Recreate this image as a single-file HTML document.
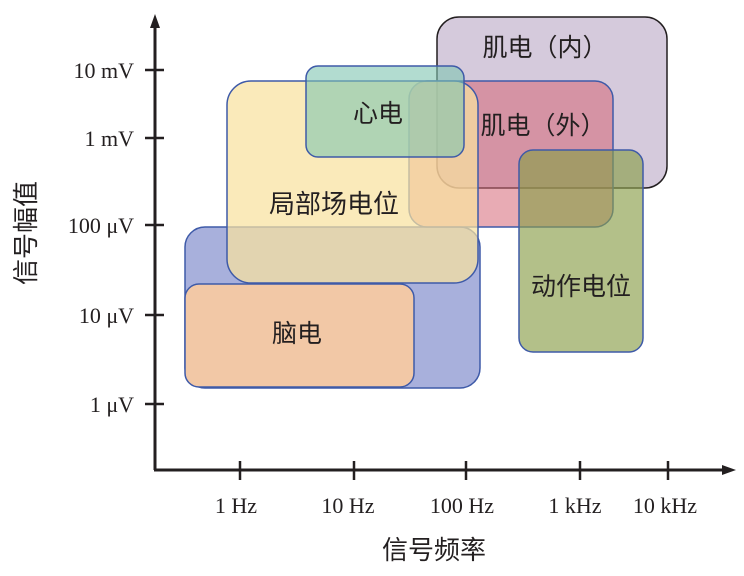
<!DOCTYPE html>
<html><head><meta charset="utf-8"><style>
html,body{margin:0;padding:0;background:#fff;width:744px;height:576px;overflow:hidden}
text{font-family:"Liberation Serif","Noto Serif CJK SC",serif;fill:#231f20}
.c{font-family:"Liberation Sans","Noto Sans CJK SC",sans-serif}
</style></head><body>
<svg width="744" height="576" viewBox="0 0 744 576" xmlns="http://www.w3.org/2000/svg">
<rect x="185" y="227" width="295" height="161" rx="20" fill="#a8b0dc" stroke="#3e5aa8" stroke-width="1.5"/>
<rect x="185" y="284" width="229" height="103" rx="14" fill="#f2c8a6" stroke="#3e5aa8" stroke-width="1.5"/>
<rect x="437" y="17" width="230" height="171" rx="22" fill="#d5cadc" stroke="#231f20" stroke-width="1.5"/>
<rect x="409" y="81" width="204" height="146" rx="18" fill="#d56677" fill-opacity="0.55" stroke="#3e5aa8" stroke-width="1.5"/>
<rect x="227" y="81" width="251" height="202" rx="24" fill="#f8e2a0" fill-opacity="0.72" stroke="#3e5aa8" stroke-width="1.5"/>
<rect x="306" y="66" width="158" height="91" rx="12" fill="#7fc4b0" fill-opacity="0.6" stroke="#3e5aa8" stroke-width="1.5"/>
<rect x="519" y="150" width="124" height="202" rx="14" fill="#8a9e4a" fill-opacity="0.65" stroke="#3e5aa8" stroke-width="1.5"/>
<text class="c" x="545" y="56" font-size="25" text-anchor="middle">肌电（内）</text>
<text class="c" x="378" y="122" font-size="25" text-anchor="middle">心电</text>
<text class="c" x="543" y="134" font-size="25" text-anchor="middle">肌电（外）</text>
<text class="c" x="334" y="213" font-size="26" text-anchor="middle">局部场电位</text>
<text class="c" x="581" y="295" font-size="25" text-anchor="middle">动作电位</text>
<text class="c" x="297" y="342" font-size="25" text-anchor="middle">脑电</text>
<line x1="155" y1="470" x2="155" y2="24" stroke="#231f20" stroke-width="3"/>
<polygon points="155,14 150,28 160,28" fill="#231f20"/>
<line x1="154" y1="470" x2="724" y2="470" stroke="#231f20" stroke-width="3"/>
<polygon points="736,470 722,465 722,475" fill="#231f20"/>
<g stroke="#231f20" stroke-width="2.5">
<line x1="145" y1="70" x2="164" y2="70"/>
<line x1="145" y1="138" x2="164" y2="138"/>
<line x1="145" y1="225" x2="164" y2="225"/>
<line x1="145" y1="315" x2="164" y2="315"/>
<line x1="145" y1="404" x2="164" y2="404"/>
<line x1="240" y1="461" x2="240" y2="480"/>
<line x1="354" y1="461" x2="354" y2="480"/>
<line x1="466" y1="461" x2="466" y2="480"/>
<line x1="580" y1="461" x2="580" y2="480"/>
<line x1="668" y1="461" x2="668" y2="480"/>
</g>
<g font-size="22" text-anchor="end">
<text x="134" y="78">10 mV</text>
<text x="134" y="146">1 mV</text>
<text x="134" y="233">100 μV</text>
<text x="134" y="323">10 μV</text>
<text x="134" y="412">1  μV</text>
</g>
<g font-size="22" text-anchor="middle">
<text x="236" y="513">1 Hz</text>
<text x="348" y="513">10 Hz</text>
<text x="462" y="513">100 Hz</text>
<text x="575" y="513">1 kHz</text>
<text x="665" y="513">10 kHz</text>
</g>
<text class="c" x="434" y="559" font-size="26" text-anchor="middle">信号频率</text>
<text class="c" x="0" y="0" font-size="26" text-anchor="middle" transform="translate(35,233) rotate(-90)">信号幅值</text>
</svg>
</body></html>
